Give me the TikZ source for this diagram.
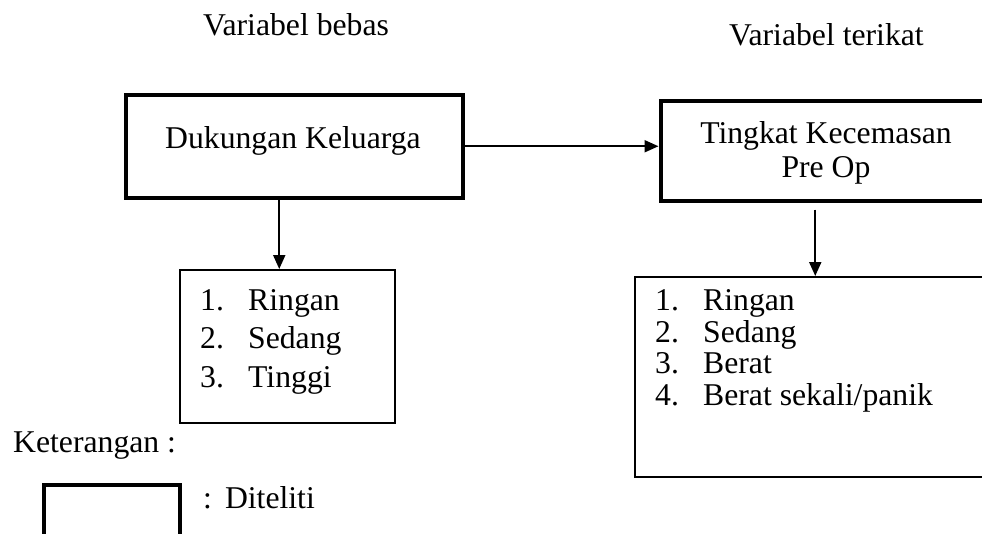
\documentclass[tikz,border=0pt]{standalone}
\usepackage{fontspec}
\setmainfont{Liberation Serif}
\usetikzlibrary{arrows.meta}
\begin{document}
\begin{tikzpicture}[x=1pt,y=-1pt,
  txt/.style={inner sep=0pt, font=\fontsize{31.7pt}{38pt}\selectfont},
  mainbox/.style={draw, line width=4pt, inner sep=0pt},
  listbox/.style={draw, line width=2pt, inner sep=0pt},
  arr/.style={line width=2pt, -{Triangle[length=14pt,width=12pt]}}]
\useasboundingbox (0,0) rectangle (982,533);
\clip (0,0) rectangle (982,533);

% column headings
\node[txt, anchor=base west] (hbebas) at (203,35) {Variabel bebas};
\node[txt, anchor=base west] (hterikat) at (729,45) {Variabel terikat};

% variable boxes
\node[mainbox, minimum width=336.5pt, minimum height=102.5pt] (kel) at (294.25,146.25) {};
\node[txt, anchor=base west] (kelT) at (165,148) {Dukungan Keluarga};

\node[mainbox, minimum width=349.5pt, minimum height=100pt] (kec) at (835.25,150.5) {};
\node[txt, anchor=base] (kecT1) at (826,143) {Tingkat Kecemasan};
\node[txt, anchor=base] (kecT2) at (826,177) {Pre Op};

% category boxes
\node[listbox, minimum width=215pt, minimum height=152.5pt] (dk) at (287,346.25) {};
\node[txt, anchor=base west] (dk1) at (200,310) {\makebox[48pt][l]{1.}Ringan};
\node[txt, anchor=base west] (dk2) at (200,348) {\makebox[48pt][l]{2.}Sedang};
\node[txt, anchor=base west] (dk3) at (200,387) {\makebox[48pt][l]{3.}Tinggi};

\node[listbox, minimum width=375.5pt, minimum height=200pt] (tk) at (822.25,377) {};
\node[txt, anchor=base west] (tk1) at (655,310) {\makebox[48pt][l]{1.}Ringan};
\node[txt, anchor=base west] (tk2) at (655,342) {\makebox[48pt][l]{2.}Sedang};
\node[txt, anchor=base west] (tk3) at (655,373) {\makebox[48pt][l]{3.}Berat};
\node[txt, anchor=base west] (tk4) at (655,405) {\makebox[48pt][l]{4.}Berat sekali/panik};

% connectors
\draw[arr] (kel.east) -- (kel.east -| kec.west);
\draw[arr] ([xshift=-15pt]kel.south) -- ([xshift=-15pt]kel.south |- dk.north);
\draw[arr, shorten <=7pt] ([xshift=-20pt]kec.south) -- ([xshift=-20pt]kec.south |- tk.north);

% legend
\node[txt, anchor=base west] (ket) at (13,452) {Keterangan :};
\node[mainbox, minimum width=136pt, minimum height=60pt] (leg) at (112,515) {};
\node[txt, anchor=base west] (legT) at (203,508) {:\hspace{13pt}Diteliti};
\end{tikzpicture}
\end{document}
